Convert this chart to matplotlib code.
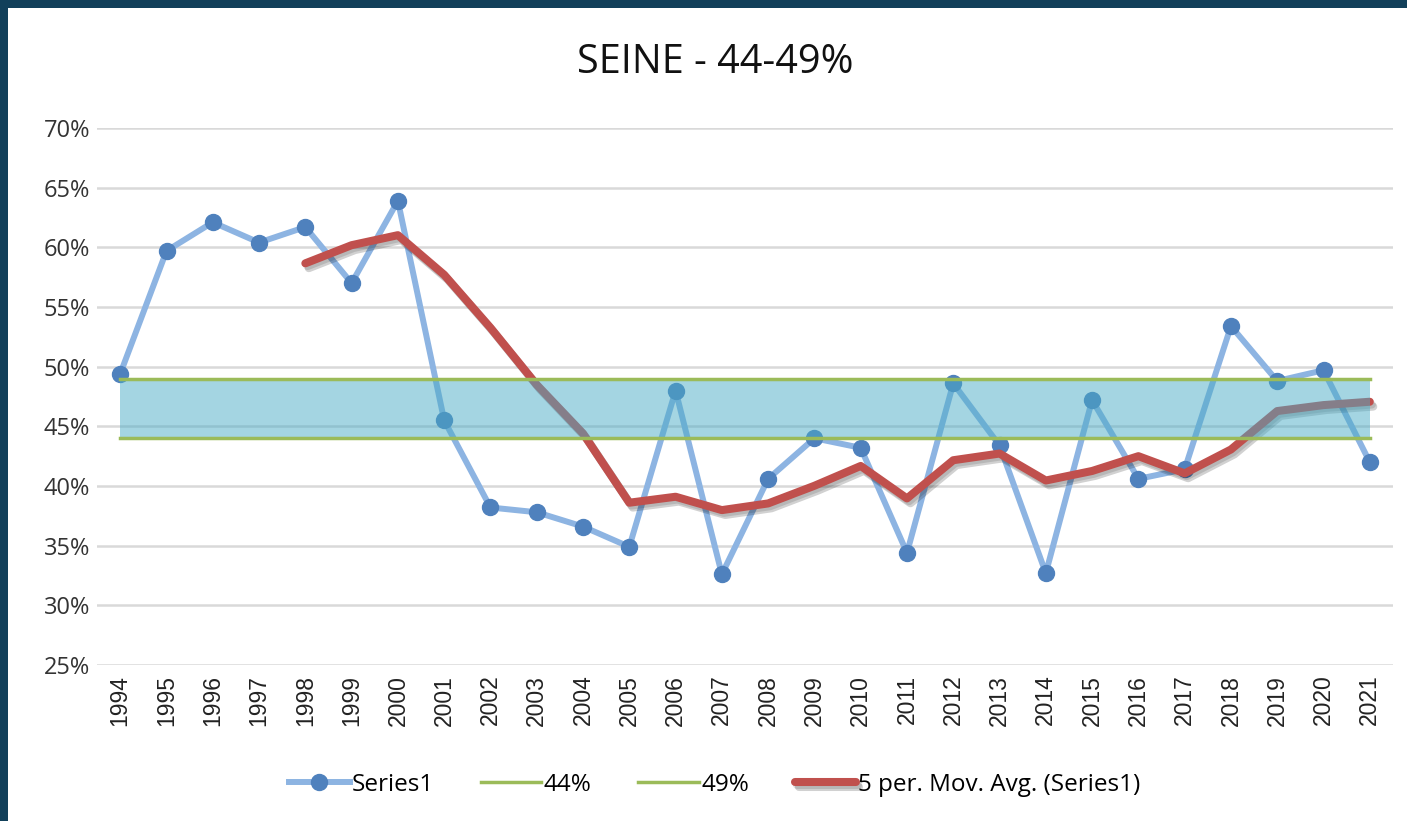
# SEINE share chart: yearly series, 44-49% target band, 5-year moving average
import matplotlib
matplotlib.use("Agg")
import matplotlib.pyplot as plt
import matplotlib.patheffects as pe
from matplotlib.ticker import PercentFormatter
import pandas as pd

years = list(range(1994, 2022))
series1 = [49.4, 59.7, 62.1, 60.4, 61.7, 57.0, 63.9, 45.5, 38.2, 37.8,
           36.6, 34.9, 48.0, 32.6, 40.6, 44.0, 43.2, 34.4, 48.6, 43.4,
           32.7, 47.2, 40.6, 41.4, 53.4, 48.8, 49.7, 42.0]
band_low = 44
band_high = 49
ma_window = 5

BLUE_LINE = "#8db4e2"
BLUE_MARK = "#4f81bd"
GREEN = "#9bbb59"
RED = "#c0504d"
BAND = "#4bacc6"
FRAME = "#12405a"

plt.rcParams['font.family'] = ['Open Sans', 'DejaVu Sans']

fig = plt.figure(figsize=(14.07, 8.21), dpi=100)
fig.patch.set_facecolor("white")
# dark frame strips on top / left edge
fig.patches.append(plt.Rectangle((0, 1 - 8/821), 1, 8/821, transform=fig.transFigure,
                                 facecolor=FRAME, edgecolor="none", zorder=0))
fig.patches.append(plt.Rectangle((0, 0), 8/1407, 1, transform=fig.transFigure,
                                 facecolor=FRAME, edgecolor="none", zorder=0))

ax = fig.add_axes([0.069, 0.19, 0.921, 0.6541])

x = list(range(len(years)))
s = pd.Series(series1)
ma = s.rolling(ma_window).mean()

ax.plot(x, series1, color=BLUE_LINE, lw=4.3, marker="o", markersize=11.5,
        markerfacecolor=BLUE_MARK, markeredgecolor=BLUE_MARK, zorder=3, label="Series1")

shadow = [pe.SimpleLineShadow(offset=(2.5, -3.5), alpha=0.18, shadow_color="black"),
          pe.SimpleLineShadow(offset=(1.5, -2), alpha=0.12, shadow_color="black"),
          pe.Normal()]
ax.plot(x, ma, color=RED, lw=5.8, solid_capstyle="round", zorder=4,
        label="5 per. Mov. Avg. (Series1)", path_effects=shadow)

lo = [band_low] * len(years)
hi = [band_high] * len(years)
ax.fill_between(x, lo, hi, color=BAND, alpha=0.5, lw=0, zorder=5)
ax.plot(x, lo, color=GREEN, lw=2.5, zorder=6, label="44%")
ax.plot(x, hi, color=GREEN, lw=2.5, zorder=6, label="49%")

ax.set_xlim(-0.5, len(years) - 0.5)
ax.set_ylim(25, 70)
ax.set_yticks(range(25, 71, 5))
ax.yaxis.set_major_formatter(PercentFormatter(decimals=0))
ax.set_xticks(x)
ax.set_xticklabels([str(y) for y in years], rotation=90, fontsize=16.5,
                   family=['Liberation Sans', 'DejaVu Sans'], color="#222222")
ax.tick_params(axis="y", labelsize=17, colors="#333333", length=0, pad=5)
ax.tick_params(axis="x", length=0, pad=7)
ax.grid(axis="y", color="#d9d9d9", lw=1.8, zorder=0)
ax.set_axisbelow(True)
for sp in ax.spines.values():
    sp.set_visible(False)

handles, labels = ax.get_legend_handles_labels()
order = [labels.index(n) for n in ["Series1", "44%", "49%", "5 per. Mov. Avg. (Series1)"]]
leg = fig.legend([handles[i] for i in order], [labels[i] for i in order],
                 loc="center", bbox_to_anchor=(0.508, 0.044), ncol=4, frameon=False,
                 fontsize=17.5, handlelength=2.5, columnspacing=1.9, handletextpad=0.1)

fig.text(0.508, 0.923, "SEINE - 44-49%", ha="center", va="center", fontsize=28.5, color="#111111")

fig.savefig("out.png", dpi=100)
